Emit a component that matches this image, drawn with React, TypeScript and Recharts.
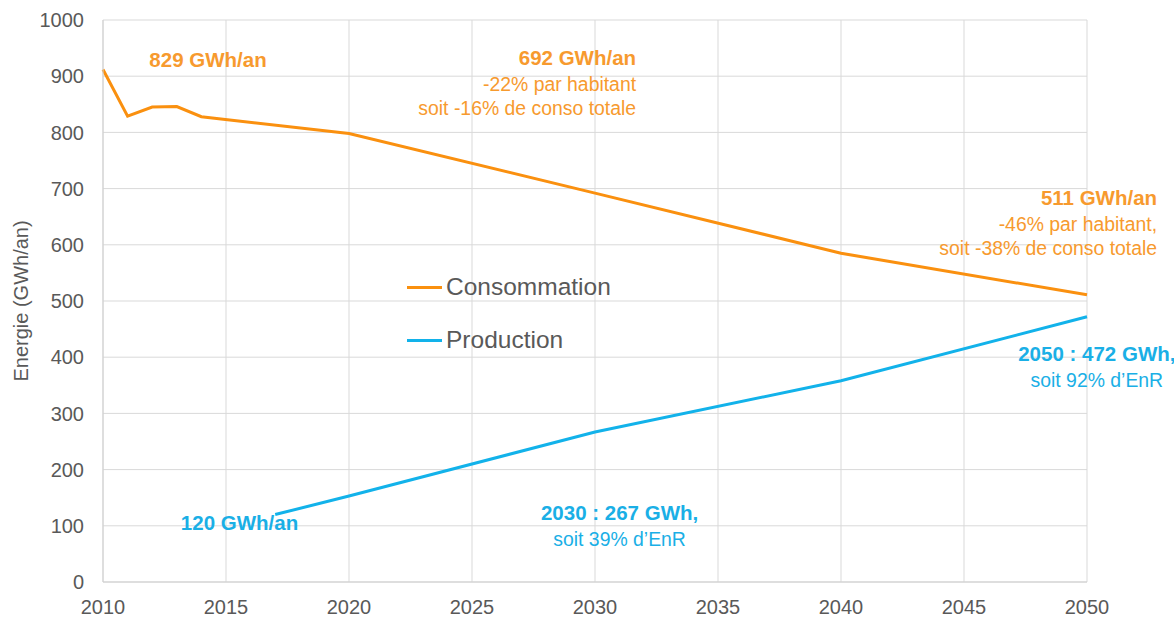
import React from 'react';
import {
  LineChart,
  Line,
  XAxis,
  YAxis,
  CartesianGrid,
  Legend,
  ReferenceDot,
} from 'recharts';

const years = [2010, 2011, 2012, 2013, 2014, 2017, 2020, 2030, 2040, 2050];
const consommation = [912, 829, 845, 846, 828, null, 798, 692, 585, 511];
const production = [null, null, null, null, null, 120, 153, 267, 358, 472];

const xTicks = [2010, 2015, 2020, 2025, 2030, 2035, 2040, 2045, 2050];
const yTicks = [0, 100, 200, 300, 400, 500, 600, 700, 800, 900, 1000];

const data = years.map((year, i) => ({
  year,
  Consommation: consommation[i],
  Production: production[i],
}));

const ORANGE = '#FA900F';
const ORANGE_TXT = '#F79A2E';
const BLUE = '#12B2EA';
const BLUE_TXT = '#1AAFE6';
const GREY = '#595959';
const FONT = '"Liberation Sans", Arial, sans-serif';

// annotation blocks: anchor in data space, first line is bold
const notes = [
  { x: 2014.27, y: 928, anchor: 'middle', color: ORANGE_TXT, lines: ['829 GWh/an'] },
  {
    x: 2031.67,
    y: 933,
    anchor: 'end',
    color: ORANGE_TXT,
    lines: ['692 GWh/an', '-22% par habitant', 'soit -16% de conso totale'],
  },
  {
    x: 2052.85,
    y: 683,
    anchor: 'end',
    color: ORANGE_TXT,
    lines: ['511 GWh/an', '-46% par habitant,', 'soit -38% de conso totale'],
  },
  { x: 2050.4, y: 405, anchor: 'middle', color: BLUE_TXT, lines: ['2050 : 472 GWh,', 'soit 92% d’EnR'] },
  { x: 2031, y: 123, anchor: 'middle', color: BLUE_TXT, lines: ['2030 : 267 GWh,', 'soit 39% d’EnR'] },
  { x: 2015.55, y: 105, anchor: 'middle', color: BLUE_TXT, lines: ['120 GWh/an'] },
];

const NoteLabel = ({ viewBox, lines, color, anchor }: any) => {
  const cx = viewBox.x + (viewBox.width || 0) / 2;
  const cy = viewBox.y + (viewBox.height || 0) / 2;
  return (
    <text x={cx} y={cy + 7} textAnchor={anchor} fill={color} fontFamily={FONT}>
      {lines.map((l: string, i: number) => (
        <tspan
          key={i}
          x={cx}
          dy={i === 0 ? 0 : i === 1 ? 26 : 24}
          fontSize={i === 0 ? 20.5 : 19.4}
          fontWeight={i === 0 ? 'bold' : 'normal'}
        >
          {l}
        </tspan>
      ))}
    </text>
  );
};

const LegendBox = ({ payload }: any) => (
  <div style={{ fontFamily: FONT }}>
    {(payload || []).map((p: any) => (
      <div
        key={p.value}
        style={{ display: 'flex', alignItems: 'center', height: 26, marginBottom: 27 }}
      >
        <span style={{ width: 35, height: 3, background: p.color, marginRight: 4 }} />
        <span style={{ fontSize: 24.5, color: GREY, lineHeight: '26px' }}>{p.value}</span>
      </div>
    ))}
  </div>
);

const YLabel = ({ viewBox }: any) => {
  const x = 21;
  const y = viewBox.y + viewBox.height / 2;
  return (
    <text
      x={x}
      y={y}
      transform={`rotate(-90 ${x} ${y})`}
      textAnchor="middle"
      dominantBaseline="central"
      fill={GREY}
      fontSize={20}
      fontFamily={FONT}
    >
      Energie (GWh/an)
    </text>
  );
};

export default function App() {
  return (
    <div style={{ position: 'absolute', left: 0, top: 0, width: 1174, height: 619, background: '#fff' }}>
      <LineChart
        width={1174}
        height={619}
        data={data}
        margin={{ top: 20, right: 87, bottom: 0, left: 0 }}
      >
        <CartesianGrid stroke="#d9d9d9" />
        <XAxis
          dataKey="year"
          type="number"
          domain={[2010, 2050]}
          ticks={xTicks}
          height={37}
          tickLine={false}
          tickMargin={12}
          axisLine={{ stroke: '#d0d0d0' }}
          tick={{ fill: GREY, fontSize: 20, fontFamily: FONT }}
        />
        <YAxis
          type="number"
          domain={[0, 1000]}
          ticks={yTicks}
          width={103}
          tickLine={false}
          tickMargin={13}
          axisLine={{ stroke: '#d0d0d0' }}
          tick={{ fill: GREY, fontSize: 20, fontFamily: FONT }}
          label={{ content: <YLabel /> }}
        />
        <Legend
          layout="vertical"
          align="center"
          verticalAlign="middle"
          content={<LegendBox />}
          wrapperStyle={{ left: 407, top: 274, width: 'auto' }}
        />
        <Line
          type="linear"
          dataKey="Consommation"
          stroke={ORANGE}
          strokeWidth={3}
          dot={false}
          connectNulls
          isAnimationActive={false}
        />
        <Line
          type="linear"
          dataKey="Production"
          stroke={BLUE}
          strokeWidth={3}
          dot={false}
          isAnimationActive={false}
        />
        {notes.map((n, i) => (
          <ReferenceDot
            key={i}
            x={n.x}
            y={n.y}
            r={0}
            fill="none"
            stroke="none"
            ifOverflow="visible"
            label={<NoteLabel lines={n.lines} color={n.color} anchor={n.anchor} />}
          />
        ))}
      </LineChart>
    </div>
  );
}
